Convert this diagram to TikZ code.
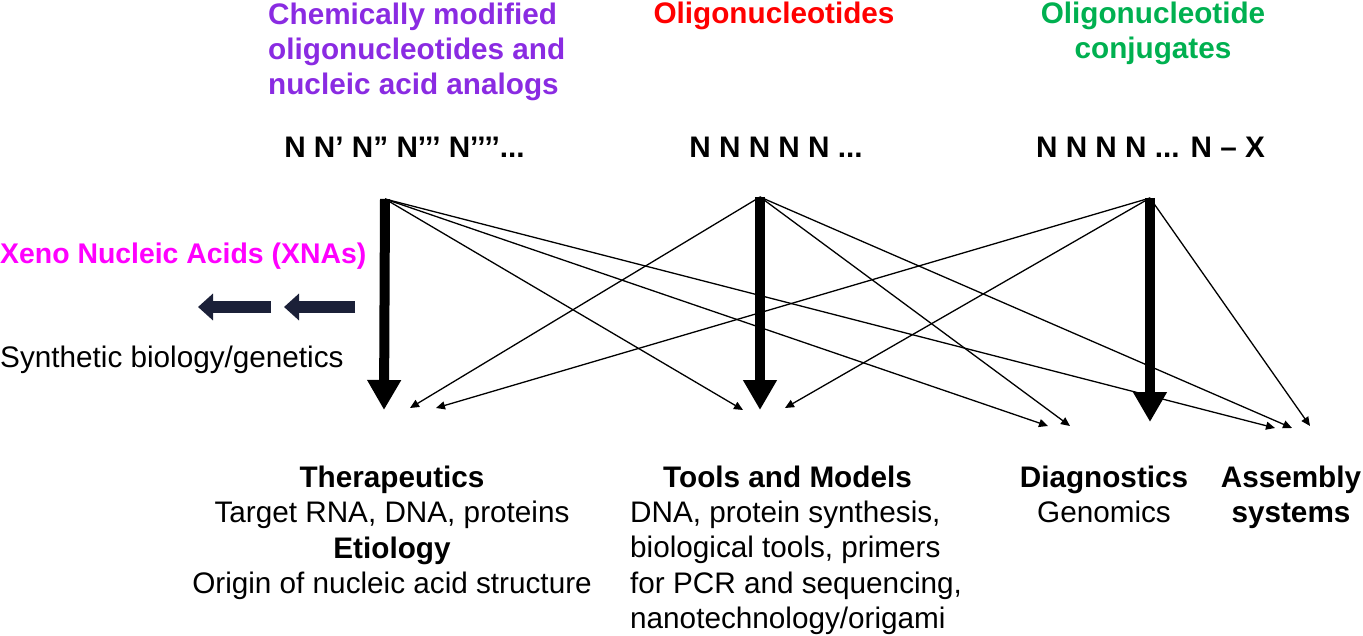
\documentclass[tikz,border=0pt]{standalone}
\usepackage{fontspec}
\setmainfont{Liberation Sans}
\usetikzlibrary{arrows.meta,positioning}

\definecolor{modpurple}{RGB}{138,43,226}
\definecolor{conjgreen}{RGB}{0,176,80}
\definecolor{xnamagenta}{RGB}{255,0,255}
\definecolor{navyblock}{RGB}{27,32,56}

\tikzset{
  hdr/.style={inner sep=0pt,font=\fontsize{29.7}{35}\selectfont\bfseries},
  body/.style={inner sep=0pt,font=\fontsize{29.7}{35.5}\selectfont},
  mainflow/.style={line width=10pt,-{Triangle[width=32pt,length=30pt]}},
  crossflow/.style={line width=1.3pt,-{Triangle[width=8pt,length=9pt]}},
  backflow/.style={navyblock,line width=12pt,-{Triangle[width=26pt,length=15pt]}},
}

\begin{document}
\begin{tikzpicture}[x=1pt,y=-1pt]
  \useasboundingbox (0,0) rectangle (1363,636);

  % classes
  \node[hdr,modpurple,align=left,anchor=north west] (modified) at (268,2.5) {Chemically modified\\oligonucleotides and\\nucleic acid analogs};
  \node[hdr,red,anchor=base] (oligo) at (774,24) {Oligonucleotides};
  \node[hdr,conjgreen,align=center,anchor=north] (conj) at (1153,2) {Oligonucleotide\\conjugates};

  \node[hdr,anchor=base] (seqA) at (404.5,158) {N N’ N” N’’’ N’’’’...};
  \node[hdr,anchor=base] (seqB) at (776,158) {N N N N N ...};
  \node[hdr,anchor=base] (seqC) at (1150.5,158) {N N N N ... N – X};

  % XNA side
  \node[hdr,xnamagenta,anchor=base west,font=\fontsize{28.4}{34}\selectfont\bfseries] (xna) at (0,263.5) {Xeno Nucleic Acids (XNAs)};
  \node[body,anchor=base west] (synbio) at (0,367) {Synthetic biology/genetics};
  \coordinate (back1s) at (355,307);
  \coordinate (back1e) at (284,307);
  \coordinate (back2s) at (271,307);
  \coordinate (back2e) at (198,307);
  \draw[backflow] (back1s) -- (back1e);
  \draw[backflow] (back2s) -- (back2e);

  % applications
  \node[body,align=center,anchor=north] (ther) at (392,465.4) {\textbf{Therapeutics}\\Target RNA, DNA, proteins\\\textbf{Etiology}\\Origin of nucleic acid structure};
  \node[hdr,anchor=base] (tools) at (787.5,487) {Tools and Models};
  \node[body,align=left,anchor=north west] (toolsuse) at (630,500.4) {DNA, protein synthesis,\\biological tools, primers\\for PCR and sequencing,\\nanotechnology/origami};
  \node[body,align=center,anchor=north] (diag) at (1104,465.4) {\textbf{Diagnostics}\\Genomics};
  \node[hdr,align=center,anchor=north] (assembly) at (1291,465.4) {Assembly\\systems};

  % arrow ends
  \coordinate (srcA) at (385,199);
  \coordinate (srcB) at (760,197);
  \coordinate (srcC) at (1150,198);
  \coordinate (therM) at (384,410);
  \coordinate (ther1) at (410,408);
  \coordinate (ther2) at (436,408);
  \coordinate (tools1) at (743,410);
  \coordinate (toolsM) at (760,410);
  \coordinate (tools2) at (785,408);
  \coordinate (diag1) at (1048,426);
  \coordinate (diag2) at (1070,426);
  \coordinate (diagM) at (1150,422);
  \coordinate (asm1) at (1275,428);
  \coordinate (asm2) at (1292,428);
  \coordinate (asm3) at (1310,426);

  \draw[mainflow] (srcA) -- (therM);
  \draw[mainflow] (srcB) -- (toolsM);
  \draw[mainflow] (srcC) -- (diagM);

  \draw[crossflow] (srcA) -- (tools1);
  \draw[crossflow] (srcA) -- (diag1);
  \draw[crossflow] (srcA) -- (asm1);
  \draw[crossflow] (srcB) -- (ther1);
  \draw[crossflow] (srcB) -- (diag2);
  \draw[crossflow] (srcB) -- (asm2);
  \draw[crossflow] (srcC) -- (ther2);
  \draw[crossflow] (srcC) -- (tools2);
  \draw[crossflow] (srcC) -- (asm3);

\end{tikzpicture}
\end{document}
